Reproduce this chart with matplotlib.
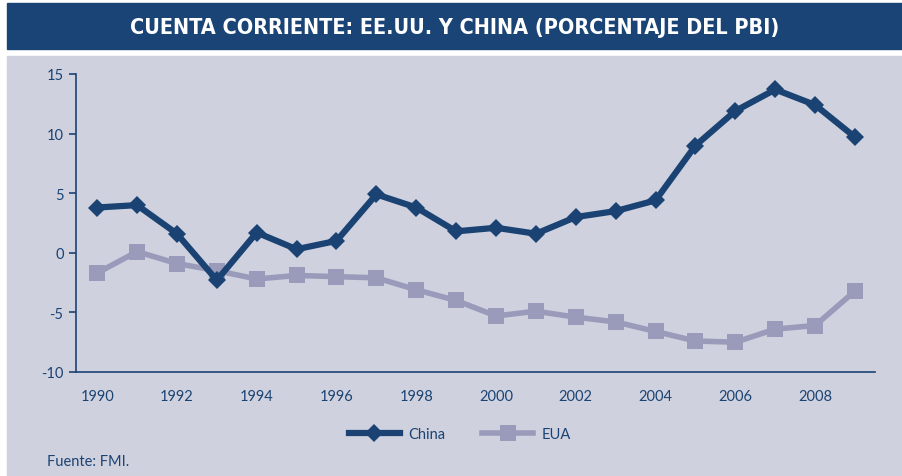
import numpy as np
import matplotlib.pyplot as plt
from matplotlib.patches import Rectangle

plt.rcParams["axes.unicode_minus"] = False

# Data
years = list(range(1990, 2010))
china = [3.8, 4.0, 1.6, -2.3, 1.7, 0.3, 1.0, 4.9, 3.8, 1.8,
         2.1, 1.6, 3.0, 3.5, 4.4, 9.0, 11.9, 13.7, 12.4, 9.7]
eua = [-1.7, 0.1, -0.9, -1.5, -2.2, -1.9, -2.0, -2.1, -3.1, -4.0,
       -5.3, -4.9, -5.4, -5.8, -6.6, -7.4, -7.5, -6.4, -6.1, -3.2]
xticks = list(range(1990, 2010, 2))
yticks = [-10, -5, 0, 5, 10, 15]

title = "CUENTA CORRIENTE: EE.UU. Y CHINA (PORCENTAJE DEL PBI)"
source = "Fuente: FMI."

dark = "#1a4373"
light = "#9a9bba"
panel = "#cfd1de"

W, H = 902, 477
fig = plt.figure(figsize=(W / 100, H / 100), dpi=100)
fig.patch.set_facecolor("white")

# title bar and panel background
fig.patches.append(Rectangle((7 / W, 1 - 50 / H), 1 - 7 / W, 46 / H,
                             transform=fig.transFigure, color="#1b4476", zorder=-2))
fig.patches.append(Rectangle((7 / W, 0), 1 - 7 / W, 1 - 57 / H,
                             transform=fig.transFigure, color=panel, zorder=-2))
fig.text((7 + W) / 2 / W, 1 - 28 / H, title, ha="center", va="center",
         color="white", fontsize=15.5, fontweight="bold",
         family="DejaVu Sans", stretch="condensed")

ax = fig.add_axes([76 / W, 1 - 373 / H, (875 - 76) / W, (373 - 75) / H])
ax.set_facecolor("none")

ax.plot(years, china, color=dark, lw=4.5, marker="D", ms=9.5, mew=0,
        label="China", zorder=3)
ax.plot(years, eua, color=light, lw=4, marker="s", ms=12, mew=0,
        label="EUA", zorder=2)

ax.set_xlim(1989.47, 2009.5)
ax.set_ylim(-10, 15)
ax.set_xticks(xticks)
ax.set_yticks(yticks)
for s in ["top", "right"]:
    ax.spines[s].set_visible(False)
for s in ["left", "bottom"]:
    ax.spines[s].set_color(dark)
    ax.spines[s].set_linewidth(1.2)
ax.tick_params(axis="x", length=0, pad=12, colors=dark, labelsize=10.5)
ax.tick_params(axis="y", length=5, width=1.2, pad=4, colors=dark, labelsize=10.5)
for lab in ax.get_xticklabels() + ax.get_yticklabels():
    lab.set_family("Lato")

leg = ax.legend(loc="center", bbox_to_anchor=(460 / W, 1 - 435 / H),
                bbox_transform=fig.transFigure, ncol=2, frameon=False,
                handlelength=3.5, columnspacing=2.5, handletextpad=0.6,
                prop={"family": "Lato", "size": 10.5})
for t in leg.get_texts():
    t.set_color(dark)

fig.text(47 / W, 1 - 462 / H, source, ha="left", va="center",
         color=dark, fontsize=10.5, family="Lato")

fig.savefig("out.png", dpi=100)
